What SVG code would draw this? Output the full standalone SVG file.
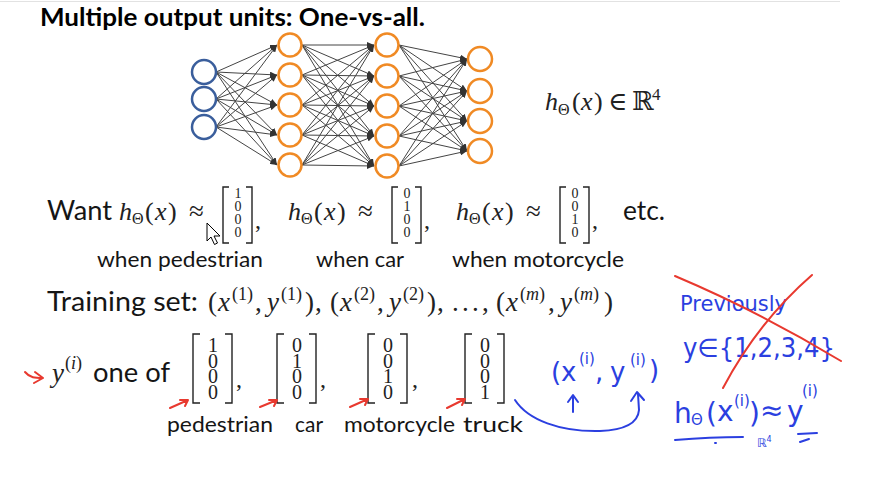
<svg xmlns="http://www.w3.org/2000/svg" width="877" height="479" viewBox="0 0 877 479">
<defs>
<marker id="ah" markerUnits="userSpaceOnUse" markerWidth="8" markerHeight="6" refX="7" refY="3" orient="auto">
<path d="M0,0 L7,3 L0,6 z" fill="#333"/>
</marker>
<style>
.t{font-family:Lato,'Liberation Sans',sans-serif;fill:#151515}
.tb{font-family:Lato,'Liberation Sans',sans-serif;font-weight:bold;fill:#000}
.m{font-family:'Liberation Serif','DejaVu Serif',serif;fill:#222}
.i{font-style:italic}
.hw{font-family:'DejaVu Sans','Liberation Sans',sans-serif;fill:#2B3FE0}
.edge{stroke:#444;stroke-width:1;marker-end:url(#ah)}
.in{fill:#fff;stroke:#3A5E9C;stroke-width:2.5}
.hid{fill:#fff;stroke:#F08A24;stroke-width:2.5}
.br{fill:none;stroke:#222;stroke-width:1.4}
.red{fill:none;stroke:#E8392F;stroke-width:2;stroke-linecap:round;stroke-linejoin:round}
.blue{fill:none;stroke:#2B3FE0;stroke-width:2;stroke-linecap:round;stroke-linejoin:round}
</style>
</defs>
<rect width="877" height="479" fill="#fff"/>
<line x1="0" y1="1.5" x2="840" y2="1.5" stroke="#e2e2e2" stroke-width="1"/>

<g id="title"><text class="tb" x="40" y="26" font-size="25" textLength="385" lengthAdjust="spacingAndGlyphs">Multiple output units: One-vs-all.</text></g>

<g id="connectors">
<line class="edge" x1="216" y1="72" x2="277" y2="45"/><line class="edge" x1="216" y1="72" x2="277" y2="75"/><line class="edge" x1="216" y1="72" x2="277" y2="105"/><line class="edge" x1="216" y1="72" x2="277" y2="135"/><line class="edge" x1="216" y1="72" x2="277" y2="165"/>
<line class="edge" x1="216" y1="99" x2="277" y2="45"/><line class="edge" x1="216" y1="99" x2="277" y2="75"/><line class="edge" x1="216" y1="99" x2="277" y2="105"/><line class="edge" x1="216" y1="99" x2="277" y2="135"/><line class="edge" x1="216" y1="99" x2="277" y2="165"/>
<line class="edge" x1="216" y1="127" x2="277" y2="45"/><line class="edge" x1="216" y1="127" x2="277" y2="75"/><line class="edge" x1="216" y1="127" x2="277" y2="105"/><line class="edge" x1="216" y1="127" x2="277" y2="135"/><line class="edge" x1="216" y1="127" x2="277" y2="165"/>

<line class="edge" x1="302" y1="45" x2="374" y2="45"/><line class="edge" x1="302" y1="45" x2="374" y2="76"/><line class="edge" x1="302" y1="45" x2="374" y2="106"/><line class="edge" x1="302" y1="45" x2="374" y2="136"/><line class="edge" x1="302" y1="45" x2="374" y2="166"/>
<line class="edge" x1="302" y1="75" x2="374" y2="45"/><line class="edge" x1="302" y1="75" x2="374" y2="76"/><line class="edge" x1="302" y1="75" x2="374" y2="106"/><line class="edge" x1="302" y1="75" x2="374" y2="136"/><line class="edge" x1="302" y1="75" x2="374" y2="166"/>
<line class="edge" x1="302" y1="105" x2="374" y2="45"/><line class="edge" x1="302" y1="105" x2="374" y2="76"/><line class="edge" x1="302" y1="105" x2="374" y2="106"/><line class="edge" x1="302" y1="105" x2="374" y2="136"/><line class="edge" x1="302" y1="105" x2="374" y2="166"/>
<line class="edge" x1="302" y1="135" x2="374" y2="45"/><line class="edge" x1="302" y1="135" x2="374" y2="76"/><line class="edge" x1="302" y1="135" x2="374" y2="106"/><line class="edge" x1="302" y1="135" x2="374" y2="136"/><line class="edge" x1="302" y1="135" x2="374" y2="166"/>
<line class="edge" x1="302" y1="165" x2="374" y2="45"/><line class="edge" x1="302" y1="165" x2="374" y2="76"/><line class="edge" x1="302" y1="165" x2="374" y2="106"/><line class="edge" x1="302" y1="165" x2="374" y2="136"/><line class="edge" x1="302" y1="165" x2="374" y2="166"/>

<line class="edge" x1="399" y1="45" x2="467" y2="59"/><line class="edge" x1="399" y1="45" x2="467" y2="91"/><line class="edge" x1="399" y1="45" x2="467" y2="121"/><line class="edge" x1="399" y1="45" x2="467" y2="151"/>
<line class="edge" x1="399" y1="76" x2="467" y2="59"/><line class="edge" x1="399" y1="76" x2="467" y2="91"/><line class="edge" x1="399" y1="76" x2="467" y2="121"/><line class="edge" x1="399" y1="76" x2="467" y2="151"/>
<line class="edge" x1="399" y1="106" x2="467" y2="59"/><line class="edge" x1="399" y1="106" x2="467" y2="91"/><line class="edge" x1="399" y1="106" x2="467" y2="121"/><line class="edge" x1="399" y1="106" x2="467" y2="151"/>
<line class="edge" x1="399" y1="136" x2="467" y2="59"/><line class="edge" x1="399" y1="136" x2="467" y2="91"/><line class="edge" x1="399" y1="136" x2="467" y2="121"/><line class="edge" x1="399" y1="136" x2="467" y2="151"/>
<line class="edge" x1="399" y1="166" x2="467" y2="59"/><line class="edge" x1="399" y1="166" x2="467" y2="91"/><line class="edge" x1="399" y1="166" x2="467" y2="121"/><line class="edge" x1="399" y1="166" x2="467" y2="151"/>
</g>

<g id="input-layer">
<circle class="in" cx="204" cy="72" r="12"/><circle class="in" cx="204" cy="99" r="12"/><circle class="in" cx="204" cy="127" r="12"/>
</g>
<g id="hidden-layer-1">
<circle class="hid" cx="290" cy="45" r="11.5"/><circle class="hid" cx="290" cy="75" r="11.5"/><circle class="hid" cx="290" cy="105" r="11.5"/><circle class="hid" cx="290" cy="135" r="11.5"/><circle class="hid" cx="290" cy="165" r="11.5"/>
</g>
<g id="hidden-layer-2">
<circle class="hid" cx="387" cy="45" r="11.5"/><circle class="hid" cx="387" cy="76" r="11.5"/><circle class="hid" cx="387" cy="106" r="11.5"/><circle class="hid" cx="387" cy="136" r="11.5"/><circle class="hid" cx="387" cy="166" r="11.5"/>
</g>
<g id="output-layer">
<circle class="hid" cx="480" cy="59" r="12"/><circle class="hid" cx="480" cy="91" r="12"/><circle class="hid" cx="480" cy="121" r="12"/><circle class="hid" cx="480" cy="151" r="12"/>
</g>

<g id="h-in-R4">
<text class="m" font-size="26" y="110"><tspan x="545" class="i">h</tspan><tspan x="558" y="115" font-size="16">Θ</tspan><tspan x="572" y="110">(</tspan><tspan x="581" class="i">x</tspan><tspan x="594">)</tspan><tspan x="608">∈</tspan><tspan x="632" font-family="'DejaVu Serif',serif">ℝ</tspan><tspan x="652" y="100" font-size="17">4</tspan></text>
</g>

<g id="want-row">
<text class="t" x="47" y="220" font-size="26" textLength="65" lengthAdjust="spacingAndGlyphs">Want</text>
<g id="want1">
<text class="m" font-size="26" y="220"><tspan x="119" class="i">h</tspan><tspan x="132" y="224" font-size="16">Θ</tspan><tspan x="145" y="220">(</tspan><tspan x="155" class="i">x</tspan><tspan x="168">)</tspan><tspan x="189" font-size="27">≈</tspan></text>
<path class="br" d="M229,187 H223 V243 H229 M246,187 H252 V243 H246"/>
<text class="m" font-size="14" text-anchor="middle" x="238"><tspan x="238" y="198">1</tspan><tspan x="238" y="211">0</tspan><tspan x="238" y="224">0</tspan><tspan x="238" y="237">0</tspan></text>
<text class="m" font-size="24" x="255" y="228">,</text>
</g>
<g id="want2" transform="translate(169,0)">
<text class="m" font-size="26" y="220"><tspan x="119" class="i">h</tspan><tspan x="132" y="224" font-size="16">Θ</tspan><tspan x="145" y="220">(</tspan><tspan x="155" class="i">x</tspan><tspan x="168">)</tspan><tspan x="189" font-size="27">≈</tspan></text>
<path class="br" d="M229,187 H223 V243 H229 M246,187 H252 V243 H246"/>
<text class="m" font-size="14" text-anchor="middle" x="238"><tspan x="238" y="198">0</tspan><tspan x="238" y="211">1</tspan><tspan x="238" y="224">0</tspan><tspan x="238" y="237">0</tspan></text>
<text class="m" font-size="24" x="255" y="228">,</text>
</g>
<g id="want3" transform="translate(337,0)">
<text class="m" font-size="26" y="220"><tspan x="119" class="i">h</tspan><tspan x="132" y="224" font-size="16">Θ</tspan><tspan x="145" y="220">(</tspan><tspan x="155" class="i">x</tspan><tspan x="168">)</tspan><tspan x="189" font-size="27">≈</tspan></text>
<path class="br" d="M229,187 H223 V243 H229 M246,187 H252 V243 H246"/>
<text class="m" font-size="14" text-anchor="middle" x="238"><tspan x="238" y="198">0</tspan><tspan x="238" y="211">0</tspan><tspan x="238" y="224">1</tspan><tspan x="238" y="237">0</tspan></text>
<text class="m" font-size="24" x="255" y="228">,</text>
</g>
<text class="t" x="623" y="220" font-size="26" textLength="42" lengthAdjust="spacingAndGlyphs">etc.</text>
<text class="t" x="97" y="267" font-size="22" textLength="166" lengthAdjust="spacingAndGlyphs">when pedestrian</text>
<text class="t" x="316" y="267" font-size="22" textLength="88" lengthAdjust="spacingAndGlyphs">when car</text>
<text class="t" x="452" y="267" font-size="22" textLength="172" lengthAdjust="spacingAndGlyphs">when motorcycle</text>
<path d="M207,223 V241 L211,237 L214.5,244.5 L217.5,243 L214,236 L220,236 Z" fill="#fff" stroke="#000" stroke-width="1" stroke-linejoin="round"/>
</g>

<g id="training-row">
<text class="t" x="47" y="311" font-size="26" textLength="151" lengthAdjust="spacingAndGlyphs">Training set:</text>
<text class="m" font-size="27" y="311">
<tspan x="208">(</tspan><tspan x="218" class="i">x</tspan><tspan x="232" y="300" font-size="18">(1)</tspan><tspan x="255" y="311">,</tspan><tspan x="267" class="i">y</tspan><tspan x="281" y="300" font-size="18">(1)</tspan><tspan x="305" y="311">)</tspan><tspan x="315">,</tspan>
<tspan x="330">(</tspan><tspan x="340" class="i">x</tspan><tspan x="354" y="300" font-size="18">(2)</tspan><tspan x="377" y="311">,</tspan><tspan x="389" class="i">y</tspan><tspan x="403" y="300" font-size="18">(2)</tspan><tspan x="427" y="311">)</tspan><tspan x="437">,</tspan>
<tspan x="452">.</tspan><tspan x="462">.</tspan><tspan x="472">.</tspan><tspan x="482">,</tspan>
<tspan x="496">(</tspan><tspan x="506" class="i">x</tspan><tspan x="520" y="300" font-size="18">(<tspan class="i">m</tspan>)</tspan><tspan x="548" y="311">,</tspan><tspan x="560" class="i">y</tspan><tspan x="574" y="300" font-size="18">(<tspan class="i">m</tspan>)</tspan><tspan x="604" y="311">)</tspan>
</text>
</g>

<g id="y-row">
<path class="red" d="M25,372 C30,378 35,378 43,378 M35,372 L43,378 L34,383"/>
<text class="m" font-size="27" y="382"><tspan x="52" class="i">y</tspan><tspan x="65" y="369" font-size="18">(<tspan class="i">i</tspan>)</tspan></text>
<text class="t" x="93" y="382" font-size="26" textLength="77" lengthAdjust="spacingAndGlyphs">one of</text>
<g id="vec1">
<path class="br" d="M200,334 H193 V403 H200 M225,334 H232 V403 H225"/>
<text class="m" font-size="20" text-anchor="middle"><tspan x="213" y="352">1</tspan><tspan x="213" y="367.5">0</tspan><tspan x="213" y="383">0</tspan><tspan x="213" y="398.5">0</tspan></text>
<text class="m" font-size="24" x="236" y="387">,</text>
</g>
<g id="vec2">
<path class="br" d="M284,334 H277 V403 H284 M309,334 H316 V403 H309"/>
<text class="m" font-size="20" text-anchor="middle"><tspan x="297" y="352">0</tspan><tspan x="297" y="367.5">1</tspan><tspan x="297" y="383">0</tspan><tspan x="297" y="398.5">0</tspan></text>
<text class="m" font-size="24" x="320" y="387">,</text>
</g>
<g id="vec3">
<path class="br" d="M375,334 H368 V403 H375 M400,334 H407 V403 H400"/>
<text class="m" font-size="20" text-anchor="middle"><tspan x="388" y="352">0</tspan><tspan x="388" y="367.5">0</tspan><tspan x="388" y="383">1</tspan><tspan x="388" y="398.5">0</tspan></text>
<text class="m" font-size="24" x="412" y="387">,</text>
</g>
<g id="vec4">
<path class="br" d="M472,334 H465 V403 H472 M497,334 H504 V403 H497"/>
<text class="m" font-size="20" text-anchor="middle"><tspan x="485" y="352">0</tspan><tspan x="485" y="367.5">0</tspan><tspan x="485" y="383">0</tspan><tspan x="485" y="398.5">1</tspan></text>
</g>
<path class="red" d="M170,408 L188,400 M180,400 L188,400 L185,406"/>
<path class="red" d="M260,407 L277,400 M269,400 L277,400 L274,406"/>
<path class="red" d="M350,407 L368,399 M360,399 L368,399 L365,405"/>
<path class="red" d="M447,408 L465,399 M457,399 L465,399 L462,405"/>
<text class="t" x="167" y="432" font-size="22" textLength="106" lengthAdjust="spacingAndGlyphs">pedestrian</text>
<text class="t" x="295" y="432" font-size="22" textLength="28" lengthAdjust="spacingAndGlyphs">car</text>
<text class="t" x="344" y="432" font-size="22" textLength="111" lengthAdjust="spacingAndGlyphs">motorcycle</text>
<text class="t" x="463" y="432" font-size="22" textLength="60" lengthAdjust="spacingAndGlyphs">truck</text>
</g>

<g id="handwriting-middle">
<text class="hw" font-size="26" y="381"><tspan x="551">(</tspan><tspan x="561">x</tspan><tspan x="579" y="364" font-size="15">(i)</tspan><tspan x="595" y="381">,</tspan><tspan x="610">y</tspan><tspan x="630" y="365" font-size="15">(i)</tspan><tspan x="649" y="379">)</tspan></text>
<path class="blue" d="M573,412 L573,396 M568,402 L573,395 L578,402"/>
<path class="blue" d="M515,400 C528,420 560,432 600,431 C625,430 638,423 639,410 L638,394 M631,401 L637,392 L644,400"/>
</g>

<g id="handwriting-right">
<text class="hw" x="680" y="311" font-size="22" textLength="107" lengthAdjust="spacingAndGlyphs">Previously</text>
<text class="hw" x="683" y="357" font-size="26" textLength="152" lengthAdjust="spacingAndGlyphs">y∈{1,2,3,4}</text>
<path class="red" d="M675,276 Q760,312 841,361"/>
<path class="red" d="M812,275 Q758,322 723,388"/>
<text class="hw" font-size="28" y="423"><tspan x="674">h</tspan><tspan x="691" y="425" font-size="15">Θ</tspan><tspan x="706" y="423">(</tspan><tspan x="717" y="421">x</tspan><tspan x="734" y="406" font-size="15">(i)</tspan><tspan x="749" y="423">)</tspan><tspan x="760" y="420">≈</tspan><tspan x="787" y="421">y</tspan><tspan x="802" y="396" font-size="15">(i)</tspan></text>
<path class="blue" d="M675,440 Q710,437 743,437 M715,443 L716,443 M798,434 L817,433 M800,442 L809,439"/>
<text class="hw" x="757" y="447" font-size="12">ℝ<tspan dy="-5" font-size="8">4</tspan></text>
</g>
</svg>
